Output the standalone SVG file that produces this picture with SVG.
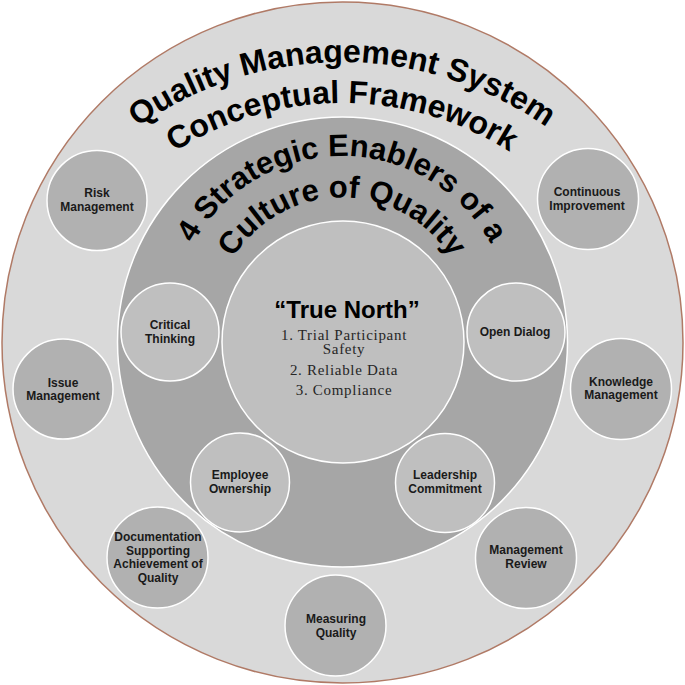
<svg xmlns="http://www.w3.org/2000/svg" xmlns:xlink="http://www.w3.org/1999/xlink" width="685" height="685" viewBox="0 0 685 685">
<style>
.ring{stroke:#ffffff;stroke-width:1.5}
.outerNode{fill:#b1b1b1;stroke:#ffffff;stroke-width:1.5}
.innerNode{fill:#bfbfbf;stroke:#ffffff;stroke-width:1.5}
.lbl{font-family:"Liberation Sans Narrow","Liberation Sans",Arial,sans-serif;font-stretch:condensed;font-weight:bold;font-size:12px;fill:#1a1a1a;text-anchor:middle}
.arc{font-family:"Liberation Sans",Arial,sans-serif;font-weight:bold;fill:#000000}
.item{font-family:"Liberation Serif","Times New Roman",serif;font-size:15px;letter-spacing:0.7px;fill:#262626;text-anchor:middle}
</style>
<defs>
<path id="t1" d="M -11 415 A 353 353 0 0 1 695 415"/>
<path id="t2" d="M 30 415 A 312 312 0 0 1 654 415"/>
<path id="m1" d="M 172 326 A 170 170 0 0 1 512 326"/>
<path id="m2" d="M 213.5 326 A 128.5 128.5 0 0 1 470.5 326"/>
</defs>
<rect width="685" height="685" fill="#ffffff"/>
<g id="outer-ring">
<circle cx="342.5" cy="342.5" r="340.5" fill="#d9d9d9" stroke="#b07a66" stroke-width="1.5"/>
<text class="arc" font-size="32"><textPath xlink:href="#t1" href="#t1" startOffset="50%" text-anchor="middle">Quality Management System</textPath></text>
<text class="arc" font-size="32"><textPath xlink:href="#t2" href="#t2" startOffset="50%" text-anchor="middle">Conceptual Framework</textPath></text>
</g>
<g id="middle-ring">
<circle class="ring" cx="342.5" cy="342" r="225" fill="#a6a6a6"/>
<text class="arc" font-size="31"><textPath xlink:href="#m1" href="#m1" startOffset="50%" text-anchor="middle">4 Strategic Enablers of a</textPath></text>
<text class="arc" font-size="31"><textPath xlink:href="#m2" href="#m2" startOffset="50%" text-anchor="middle">Culture of Quality</textPath></text>
</g>
<g id="true-north">
<circle class="ring" cx="343" cy="342" r="121" fill="#bfbfbf"/>
<text x="347" y="318" font-family="'Liberation Sans',Arial,sans-serif" font-weight="bold" font-size="24" fill="#000000" text-anchor="middle">“True North”</text>
<text class="item" x="344" y="340">1. Trial Participant</text>
<text class="item" x="344" y="354">Safety</text>
<text class="item" x="344" y="375">2. Reliable Data</text>
<text class="item" x="344" y="395">3. Compliance</text>
</g>
<g id="critical-thinking">
<circle class="innerNode" cx="170" cy="332" r="49"/>
<text class="lbl" x="170" y="329">Critical</text>
<text class="lbl" x="170" y="343">Thinking</text>
</g>
<g id="open-dialog">
<circle class="innerNode" cx="516" cy="332" r="49"/>
<text class="lbl" x="515" y="336">Open Dialog</text>
</g>
<g id="employee-ownership">
<circle class="innerNode" cx="240" cy="482.5" r="49.5"/>
<text class="lbl" x="240" y="479">Employee</text>
<text class="lbl" x="240" y="493">Ownership</text>
</g>
<g id="leadership-commitment">
<circle class="innerNode" cx="445" cy="483" r="49.5"/>
<text class="lbl" x="445" y="479">Leadership</text>
<text class="lbl" x="445" y="493">Commitment</text>
</g>
<g id="risk-management">
<circle class="outerNode" cx="97" cy="200.5" r="50"/>
<text class="lbl" x="97" y="197">Risk</text>
<text class="lbl" x="97" y="211">Management</text>
</g>
<g id="issue-management">
<circle class="outerNode" cx="63" cy="389" r="50"/>
<text class="lbl" x="63" y="387">Issue</text>
<text class="lbl" x="63" y="400">Management</text>
</g>
<g id="continuous-improvement">
<circle class="outerNode" cx="588" cy="199" r="50.5"/>
<text class="lbl" x="587" y="196">Continuous</text>
<text class="lbl" x="587" y="210">Improvement</text>
</g>
<g id="knowledge-management">
<circle class="outerNode" cx="621" cy="389" r="50.5"/>
<text class="lbl" x="621" y="386">Knowledge</text>
<text class="lbl" x="621" y="399">Management</text>
</g>
<g id="documentation">
<circle class="outerNode" cx="157.5" cy="557.5" r="50.5"/>
<text class="lbl" x="158" y="541">Documentation</text>
<text class="lbl" x="158" y="554.5">Supporting</text>
<text class="lbl" x="158" y="568">Achievement of</text>
<text class="lbl" x="158" y="582">Quality</text>
</g>
<g id="measuring-quality">
<circle class="outerNode" cx="335.5" cy="625.5" r="50.5"/>
<text class="lbl" x="336" y="623">Measuring</text>
<text class="lbl" x="336" y="637">Quality</text>
</g>
<g id="management-review">
<circle class="outerNode" cx="526" cy="558" r="50.5"/>
<text class="lbl" x="526" y="554">Management</text>
<text class="lbl" x="526" y="568">Review</text>
</g>
<g id="connectors"></g>
</svg>
